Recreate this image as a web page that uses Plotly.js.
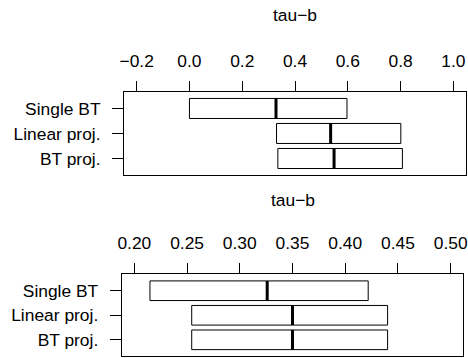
<!DOCTYPE html>
<html><head><meta charset="utf-8">
<script src="https://cdn.plot.ly/plotly-3.0.1.min.js"></script>
<style>html,body{margin:0;padding:0;background:#fff}#c{width:468px;height:358px}</style>
</head><body><div id="c"></div>
<script>
const categories = ["Single BT", "Linear proj.", "BT proj."];
const catPos = [1, 2, 3];
// panel 1
const low1 = [0.0, 0.33, 0.335];
const med1 = [0.328, 0.535, 0.548];
const high1 = [0.597, 0.801, 0.807];
const ticks1 = [-0.2, 0.0, 0.2, 0.4, 0.6, 0.8, 1.0];
const tickText1 = ["\u22120.2", "0.0", "0.2", "0.4", "0.6", "0.8", "1.0"];
// panel 2
const low2 = [0.2148, 0.2544, 0.2544];
const med2 = [0.326, 0.35, 0.35];
const high2 = [0.4218, 0.4402, 0.4402];
const ticks2 = [0.20, 0.25, 0.30, 0.35, 0.40, 0.45, 0.50];
const tickText2 = ["0.20", "0.25", "0.30", "0.35", "0.40", "0.45", "0.50"];
const axisTitle = "tau\u2212b";

const FONT = "Liberation Sans, Arial, Helvetica, sans-serif";
const FS = 17.4;
const HALF = 0.4;

function barTrace(lo, hi, xa, ya) {
  return {
    type: "bar", orientation: "h",
    y: catPos, base: lo, x: hi.map((h, i) => h - lo[i]),
    width: 0.8, xaxis: xa, yaxis: ya,
    marker: {color: "#ffffff", line: {color: "#000", width: 1}},
    hoverinfo: "skip", showlegend: false
  };
}
function medTrace(med, xa, ya) {
  const xs = [], ys = [];
  med.forEach((m, i) => { xs.push(m, m, null); ys.push(catPos[i] - HALF, catPos[i] + HALF, null); });
  return {type: "scatter", mode: "lines", x: xs, y: ys, xaxis: xa, yaxis: ya,
    line: {color: "#000", width: 3}, hoverinfo: "skip", showlegend: false};
}

const traces = [
  barTrace(low1, high1, "x", "y"), medTrace(med1, "x", "y"),
  barTrace(low2, high2, "x2", "y2"), medTrace(med2, "x2", "y2")
];

function xax(dom, range, tv, tt, anchor) {
  return {domain: dom, range: range, side: "top", anchor: anchor,
    tickvals: tv, ticktext: tt, ticks: "outside", ticklen: 10, tickwidth: 1, tickcolor: "#000",
    showline: true, mirror: true, linecolor: "#000", linewidth: 1,
    showgrid: false, zeroline: false, ticklabelstandoff: 7,
    tickfont: {family: FONT, size: FS, color: "#000"}, fixedrange: true};
}
function yax(dom, anchor) {
  return {domain: dom, range: [3.66, 0.33], anchor: anchor,
    tickvals: catPos, ticktext: categories, ticks: "outside", ticklen: 11, tickwidth: 1, tickcolor: "#000",
    showline: true, mirror: true, linecolor: "#000", linewidth: 1,
    showgrid: false, zeroline: false, ticklabelstandoff: 8,
    tickfont: {family: FONT, size: FS, color: "#000"}, fixedrange: true};
}

const W = 468, H = 358;
const layout = {
  width: W, height: H, margin: {l: 0, r: 0, t: 0, b: 0},
  paper_bgcolor: "#fff", plot_bgcolor: "#fff", showlegend: false, bargap: 0,
  xaxis: xax([124 / W, 466 / W], [-0.248, 1.048], ticks1, tickText1, "y"),
  yaxis: yax([1 - 175 / H, 1 - 91.7 / H], "x"),
  xaxis2: xax([121.7 / W, 463.3 / W], [0.188, 0.512], ticks2, tickText2, "y2"),
  yaxis2: yax([1 - 356 / H, 1 - 274.3 / H], "x2"),
  annotations: [
    {text: axisTitle, x: 295 / W, y: 1 - 15 / H, xref: "paper", yref: "paper", showarrow: false,
     xanchor: "center", yanchor: "middle", font: {family: FONT, size: FS, color: "#000"}},
    {text: axisTitle, x: 292.5 / W, y: 1 - 200 / H, xref: "paper", yref: "paper", showarrow: false,
     xanchor: "center", yanchor: "middle", font: {family: FONT, size: FS, color: "#000"}}
  ]
};
Plotly.newPlot("c", traces, layout, {displayModeBar: false, staticPlot: true});
</script></body></html>
